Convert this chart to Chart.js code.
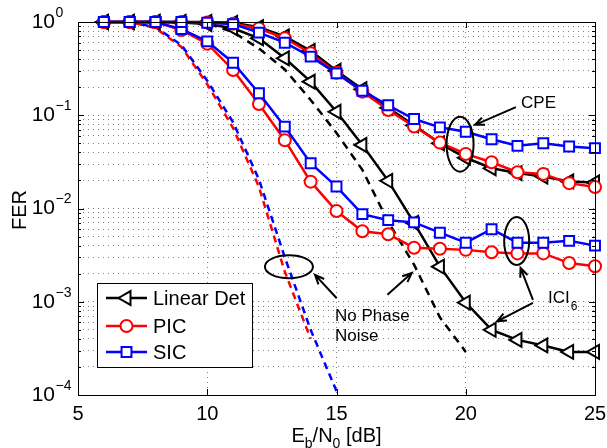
<!DOCTYPE html>
<html>
<head>
<meta charset="utf-8">
<script src="https://cdn.jsdelivr.net/npm/chart.js@4.4.1/dist/chart.umd.min.js"></script>
<style>
  html, body { margin: 0; padding: 0; background: #fff; }
  #wrap { width: 607px; height: 448px; }
</style>
</head>
<body>
<div id="wrap"><canvas id="fer" width="607" height="448"></canvas></div>
<script>
// Eb/N0 points [dB] of the simulated curves
var snr = [6, 7, 8, 9, 10, 11, 12, 13, 14, 15, 16, 17, 18, 19, 20, 21, 22, 23, 24, 25];

// CPE correction only
var linCpe = [1, 1, 1, 1, 1, 0.98, 0.88, 0.7, 0.49, 0.3, 0.19, 0.12, 0.078, 0.05, 0.035, 0.027, 0.024, 0.022, 0.0195, 0.019];
var picCpe = [1, 1, 1, 1, 0.99, 0.96, 0.85, 0.669, 0.462, 0.286, 0.179, 0.114, 0.0757, 0.0509, 0.0385, 0.0313, 0.0245, 0.0235, 0.0187, 0.017];
var sicCpe = [1, 1, 1, 1, 0.98, 0.95, 0.77, 0.6, 0.425, 0.281, 0.183, 0.128, 0.0912, 0.0742, 0.0666, 0.0553, 0.047, 0.0501, 0.0462, 0.0444];

// ICI correction with 6 terms
var linIci = [1, 1, 1, 0.99, 0.95, 0.856, 0.669, 0.408, 0.229, 0.109, 0.048, 0.0198, 0.007, 0.00238, 0.00098, 0.0005, 0.00039, 0.00034, 0.00029, 0.00029];
var picIci = [1, 1, 1, 0.82, 0.586, 0.306, 0.132, 0.054, 0.0194, 0.0094, 0.0057, 0.0053, 0.0038, 0.0037, 0.0036, 0.0034, 0.0033, 0.0033, 0.0026, 0.0024];
var sicIci = [1, 1, 1, 0.84, 0.62, 0.366, 0.172, 0.0755, 0.0306, 0.0172, 0.0087, 0.0075, 0.0071, 0.0055, 0.0043, 0.006, 0.0043, 0.0043, 0.0045, 0.004];

// no phase noise references
var snrLinRef = [9, 10, 11, 12, 13, 14, 15, 16, 17, 18, 19, 20];
var linRef = [1, 0.97, 0.78, 0.52, 0.31, 0.146, 0.0646, 0.026, 0.0072, 0.0025, 0.00068, 0.00029];
var snrPicRef = [7, 8, 9, 10, 11, 12, 13, 14];
var picRef = [1, 0.86, 0.54, 0.215, 0.073, 0.017, 0.0021, 0.0004];
var snrSicRef = [7, 8, 9, 10, 11, 12, 13, 14, 15];
var sicRef = [1, 0.88, 0.567, 0.235, 0.084, 0.0205, 0.003, 0.0005, 0.00011];

// axis ticks
var xTicks = [5, 10, 15, 20, 25];
var yDecades = [-4, -3, -2, -1, 0];

var FONT = '"Liberation Sans", Arial, Helvetica, sans-serif';
var BLACK = '#000000', RED = '#ff0000', BLUE = '#0000ff';

function pts(xs, ys) {
  return xs.map(function(x, i) { return { x: x, y: ys[i] }; });
}

// dotted grid on every minor decade step
var yGrid = [];
yDecades.forEach(function(e) {
  if (e === 0) { yGrid.push(1); return; }
  for (var m = 1; m < 10; m++) yGrid.push(m * Math.pow(10, e));
});

var styles = {
  lin: { color: BLACK, pointStyle: 'triangle', radius: 8, rotation: -90 },
  pic: { color: RED, pointStyle: 'circle', radius: 6, rotation: 0 },
  sic: { color: BLUE, pointStyle: 'rect', radius: 7, rotation: 0 }
};

function markedSet(label, st, xs, ys, order) {
  return {
    label: label,
    data: pts(xs, ys),
    borderColor: st.color,
    borderWidth: 2.5,
    pointStyle: st.pointStyle,
    pointRadius: st.radius,
    pointRotation: st.rotation,
    pointBorderColor: st.color,
    pointBackgroundColor: '#ffffff',
    pointBorderWidth: 2,
    tension: 0,
    clip: { left: 12, top: 12, right: 12, bottom: 0 },
    order: order
  };
}

function dashedSet(label, color, xs, ys, dash, offset, order) {
  return {
    label: label,
    data: pts(xs, ys),
    borderColor: color,
    borderWidth: 2.5,
    borderDash: dash,
    borderDashOffset: offset,
    pointRadius: 0,
    tension: 0,
    order: order
  };
}

function arrow(ctx, x1, y1, x2, y2) {
  var a = Math.atan2(y2 - y1, x2 - x1), h = 10;
  ctx.beginPath();
  ctx.moveTo(x1, y1);
  ctx.lineTo(x2, y2);
  ctx.moveTo(x2 - h * Math.cos(a - 0.4), y2 - h * Math.sin(a - 0.4));
  ctx.lineTo(x2, y2);
  ctx.lineTo(x2 - h * Math.cos(a + 0.4), y2 - h * Math.sin(a + 0.4));
  ctx.stroke();
}

// axes box, inward ticks, labels, legend and annotations
var decorations = {
  id: 'decorations',
  afterDraw: function(chart) {
    var ctx = chart.ctx, a = chart.chartArea;
    var xs = chart.scales.x, ys = chart.scales.y;
    var X = function(v) { return xs.getPixelForValue(v); };
    var Y = function(v) { return ys.getPixelForValue(v); };

    ctx.save();
    ctx.strokeStyle = BLACK;
    ctx.fillStyle = BLACK;
    ctx.lineWidth = 1;

    // frame
    ctx.strokeRect(Math.round(a.left) + 0.5, Math.round(a.top) + 0.5,
      Math.round(a.right - a.left), Math.round(a.bottom - a.top));

    // ticks
    ctx.beginPath();
    xTicks.forEach(function(v) {
      var px = Math.round(X(v)) + 0.5;
      ctx.moveTo(px, a.bottom); ctx.lineTo(px, a.bottom - 6);
      ctx.moveTo(px, a.top); ctx.lineTo(px, a.top + 6);
    });
    yGrid.forEach(function(v) {
      var py = Math.round(Y(v)) + 0.5;
      var len = Math.abs(Math.log10(v) - Math.round(Math.log10(v))) < 1e-9 ? 6 : 3;
      ctx.moveTo(a.left, py); ctx.lineTo(a.left + len, py);
      ctx.moveTo(a.right, py); ctx.lineTo(a.right - len, py);
    });
    ctx.stroke();

    // y tick labels 10^n
    yDecades.forEach(function(e) {
      var py = Y(Math.pow(10, e));
      ctx.font = '21px ' + FONT;
      ctx.textAlign = 'right';
      ctx.textBaseline = 'middle';
      ctx.fillText('10', 55, py);
      ctx.font = '14px ' + FONT;
      ctx.textAlign = 'left';
      ctx.fillText(e === 0 ? '0' : '\u2212' + (-e), 55.5, py - 9);
    });

    // axis titles
    ctx.save();
    ctx.translate(20, 210);
    ctx.rotate(-Math.PI / 2);
    ctx.font = '20px ' + FONT;
    ctx.textAlign = 'center';
    ctx.textBaseline = 'middle';
    ctx.fillText('FER', 0, 0);
    ctx.restore();

    var parts = [['E', 20, 0], ['b', 14, 6], ['/N', 20, 0], ['0', 14, 6], [' [dB]', 20, 0]];
    var total = 0;
    parts.forEach(function(p) { ctx.font = p[1] + 'px ' + FONT; total += ctx.measureText(p[0]).width; });
    var cx = (a.left + a.right) / 2 - total / 2;
    ctx.textAlign = 'left';
    ctx.textBaseline = 'alphabetic';
    parts.forEach(function(p) {
      ctx.font = p[1] + 'px ' + FONT;
      ctx.fillText(p[0], cx, 441.5 + p[2]);
      cx += ctx.measureText(p[0]).width;
    });

    // legend
    var lx = 97, ly = 283, lw = 155, lh = 84;
    ctx.fillStyle = '#ffffff';
    ctx.fillRect(lx, ly, lw, lh);
    ctx.strokeStyle = BLACK;
    ctx.lineWidth = 1;
    ctx.strokeRect(lx + 0.5, ly + 0.5, lw, lh);
    [['Linear Det', styles.lin, 298], ['PIC', styles.pic, 326], ['SIC', styles.sic, 352]].forEach(function(row) {
      var st = row[1], y = row[2];
      ctx.strokeStyle = st.color;
      ctx.lineWidth = 2.5;
      ctx.beginPath(); ctx.moveTo(106, y); ctx.lineTo(147, y); ctx.stroke();
      ctx.fillStyle = '#ffffff';
      ctx.lineWidth = 2;
      Chart.helpers.drawPoint(ctx, { pointStyle: st.pointStyle, radius: st.radius, rotation: st.rotation, borderWidth: 2 }, 126.5, y);
      ctx.fillStyle = BLACK;
      ctx.font = '20px ' + FONT;
      ctx.textAlign = 'left';
      ctx.textBaseline = 'middle';
      ctx.fillText(row[0], 153, y + 1);
    });

    // annotations
    ctx.strokeStyle = BLACK;
    ctx.fillStyle = BLACK;
    ctx.lineWidth = 2;
    [[19.78, 0.049, 13.5, 27.5], [21.97, 0.00448, 12.5, 24], [13.16, 0.00237, 24, 11.5]].forEach(function(e) {
      ctx.beginPath();
      ctx.ellipse(X(e[0]), Y(e[1]), e[2], e[3], 0, 0, Math.PI * 2);
      ctx.stroke();
    });
    [[21.94, 0.122, 20.36, 0.079],
     [22.6, 0.00105, 22.12, 0.00231],
     [22.6, 0.00097, 21.21, 0.000617],
     [15.01, 0.00109, 14.17, 0.00194],
     [16.97, 0.00119, 17.91, 0.00203]].forEach(function(r) {
      arrow(ctx, X(r[0]), Y(r[1]), X(r[2]), Y(r[3]));
    });

    ctx.font = '17px ' + FONT;
    ctx.textAlign = 'left';
    ctx.textBaseline = 'middle';
    ctx.fillText('CPE', X(22.14), Y(0.1336));
    ctx.fillText('No Phase', X(14.94), Y(0.000694));
    ctx.fillText('Noise', X(14.94), Y(0.00043));
    var ix = X(23.18), iy = Y(0.00108);
    ctx.fillText('ICI', ix, iy);
    var iw = ctx.measureText('ICI').width;
    ctx.font = '12px ' + FONT;
    ctx.fillText('6', ix + iw + 1, iy + 8);

    ctx.restore();
  }
};

var chart = new Chart(document.getElementById('fer'), {
  type: 'line',
  data: {
    datasets: [
      markedSet('SIC', styles.sic, snr, sicCpe, 1),
      markedSet('SIC ICI', styles.sic, snr, sicIci, 1),
      markedSet('PIC', styles.pic, snr, picCpe, 2),
      markedSet('PIC ICI', styles.pic, snr, picIci, 2),
      markedSet('Linear Det', styles.lin, snr, linCpe, 3),
      markedSet('Linear Det ICI', styles.lin, snr, linIci, 3),
      dashedSet('SIC no PN', BLUE, snrSicRef, sicRef, [7, 5], 0, 4),
      dashedSet('PIC no PN', RED, snrPicRef, picRef, [7, 5], 6, 5),
      dashedSet('Linear Det no PN', BLACK, snrLinRef, linRef, [8, 6], 0, 6)
    ]
  },
  options: {
    responsive: false,
    devicePixelRatio: 1,
    animation: false,
    layout: { padding: { left: 0, right: 12, top: 22, bottom: 0 } },
    plugins: { legend: { display: false }, tooltip: { enabled: false } },
    scales: {
      x: {
        type: 'linear',
        min: 5,
        max: 25,
        afterBuildTicks: function(s) { s.ticks = xTicks.map(function(v) { return { value: v }; }); },
        ticks: { color: BLACK, font: { size: 20, family: FONT }, padding: 7, maxRotation: 0, autoSkip: false },
        grid: { color: 'rgba(0,0,0,0.5)', lineWidth: 1, drawTicks: false },
        border: { display: false, dash: [1, 4] },
        afterFit: function(s) { s.height = 53; s.paddingLeft = 0; s.paddingRight = 0; }
      },
      y: {
        type: 'logarithmic',
        min: 1e-4,
        max: 1,
        afterBuildTicks: function(s) { s.ticks = yGrid.map(function(v) { return { value: v }; }); },
        ticks: { display: false },
        grid: { color: 'rgba(0,0,0,0.5)', lineWidth: 1, drawTicks: false },
        border: { display: false, dash: [1, 4] },
        afterFit: function(s) { s.width = 78; s.paddingTop = 0; s.paddingBottom = 0; }
      }
    }
  },
  plugins: [decorations]
});
</script>
</body>
</html>
